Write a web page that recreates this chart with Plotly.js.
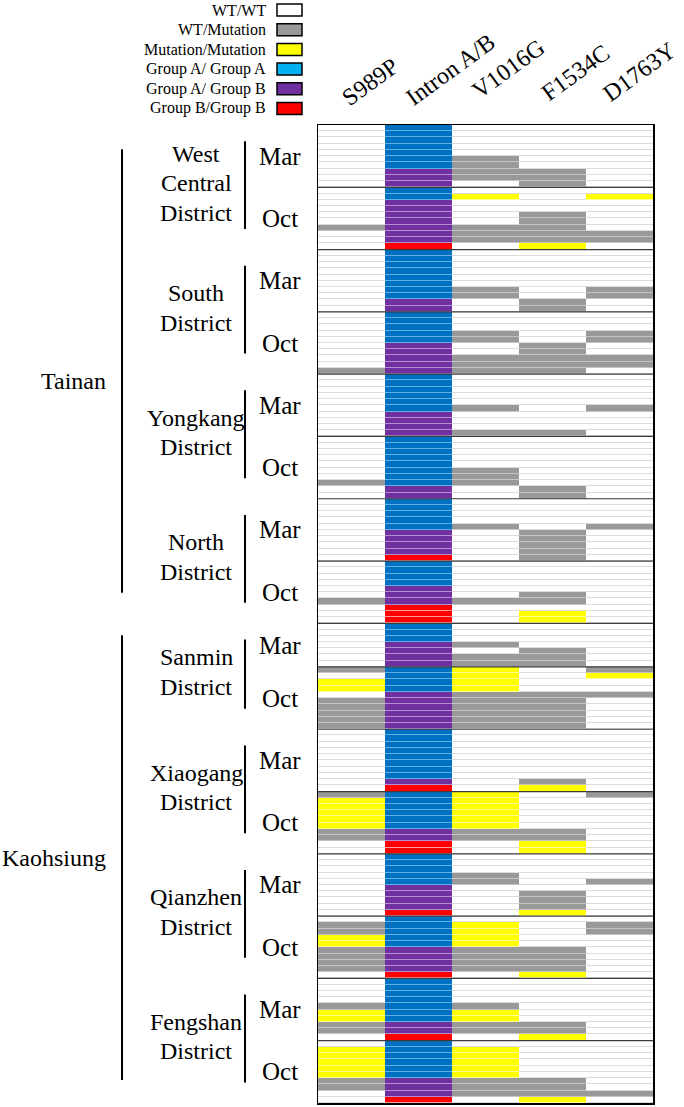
<!DOCTYPE html>
<html><head><meta charset="utf-8">
<script src="https://cdn.plot.ly/plotly-3.0.1.min.js"></script>
<style>html,body{margin:0;padding:0;background:#fff;}#chart{width:684px;height:1107px;}</style>
</head><body><div id="chart"></div>
<script>
// ---------------- DATA ----------------
const columns = ['S989P', 'Intron A/B', 'V1016G', 'F1534C', 'D1763Y'];
const cities = ['Tainan', 'Kaohsiung'];
const districts = [['West', 'Central', 'District'], ['South', 'District'], ['Yongkang', 'District'], ['North', 'District'],
                   ['Sanmin', 'District'], ['Xiaogang', 'District'], ['Qianzhen', 'District'], ['Fengshan', 'District']];
const districtCity = [0, 0, 0, 0, 1, 1, 1, 1];
const months = ['Mar', 'Oct'];
// genotype codes per individual (one string per district/month block, rows top to bottom)
// 0 = WT/WT, 1 = WT/Mutation, 2 = Mutation/Mutation
// Intron: A = Group A/Group A, H = Group A/Group B, B = Group B/Group B
const S989P = ['0000000000', '0000001000', '0000000000', '0000000001', '0000000000', '0000000100', '0000000000', '0000001000',
               '0000000', '1022011111', '0000000000', '1222221100', '0000000000', '0112211110', '0000122110', '0222221100'];
const intronAB = ['AAAAAAAHHH', 'AAHHHHHHHB', 'AAAAAAAAHH', 'AAAAAHHHHH', 'AAAAAAHHHH', 'AAAAAAAAHH', 'AAAAAHHHHB', 'AAAAHHHBBB',
                  'AAAHHHH', 'AAAAHHHHHH', 'AAAAAAAAHB', 'AAAAAAHHBB', 'AAAAAHHHHB', 'AAAAAHHHHB', 'AAAAAAAHHB', 'AAAAAAHHHB'];
const V1016G = ['0000011110', '0200001110', '0000001100', '0001100111', '0000010001', '0000011100', '0000100000', '0000001000',
                '0001011', '2222111111', '0000000000', '2222221100', '0001100000', '0222211110', '0000122110', '0222221110'];
const F1534C = ['0000000111', '0000111112', '0000000011', '0000011111', '0000000001', '0000000011', '0000011111', '0000011022',
                '0000111', '0000111111', '0000000012', '0000001122', '0000001112', '0000011112', '0000000112', '0000001112'];
const D1763Y = ['0000000000', '0200000110', '0000001100', '0001100110', '0000010000', '0000000000', '0000100000', '0000000000',
                '0000000', '1200100000', '0000000000', '1000000000', '0000100000', '0110000000', '0000000000', '0000000010'];
const legendLabels = ['WT/WT', 'WT/Mutation', 'Mutation/Mutation', 'Group A/ Group A', 'Group A/ Group B', 'Group B/Group B'];

// ---------------- STYLE ----------------
const codeMap = {'0': 0, '1': 1, '2': 2, 'A': 3, 'H': 4, 'B': 5};
const cellColors = ['#ffffff', '#999999', '#ffff00', '#0070c0', '#7030a0', '#ff0000'];
const lineColors = ['#dcdcdc', '#c4c4c4', '#ffff90', '#5fb0e4', '#b38fd2', '#ff9a9a'];
const legendColors = ['#ffffff', '#999999', '#ffff00', '#00b0f0', '#7030a0', '#ff0000'];
const W = 684, H = 1107, ML = 318, MR = 31, MT = 125, MB = 4;
const plotW = W - ML - MR, plotH = H - MT - MB;
const px2x = px => (px - ML) / plotW;
const px2y = py => 1 - (py - MT) / plotH;
const FONT = '"Liberation Serif", "Times New Roman", serif';
const headerPos = [[370, 82], [450, 70], [508, 69], [575, 73], [639, 72]];
const headerSize = 24, districtSize = 24, monthSize = 25, citySize = 24, legendSize = 16;
const districtLinePx = 29.5;
const cityBarPad = [[3.9, 4.9], [1.9, 3.7]];   // rows trimmed at top / bottom of each city bar
const cityLabelShift = [1.6, 0];               // rows

function stepScale(cols) {
  const s = [];
  const n = cols.length;
  cols.forEach((c, i) => { s.push([i / n, c]); s.push([(i + 1) / n, c]); });
  return s;
}

// ---------------- BUILD ----------------
const zRows = [];
const blockStart = [];
const blockLen = [];
for (let b = 0; b < intronAB.length; b++) {
  blockStart.push(zRows.length);
  blockLen.push(intronAB[b].length);
  for (let r = 0; r < intronAB[b].length; r++) {
    zRows.push([S989P[b][r], intronAB[b][r], V1016G[b][r], F1534C[b][r], D1763Y[b][r]].map(ch => codeMap[ch]));
  }
}
const nRows = zRows.length;
const rowPx = plotH / nRows;
const xs = columns.map((_, i) => i);
const ys = zRows.map((_, i) => i);

const baseTrace = {type: 'heatmap', z: zRows, x: xs, y: ys, zmin: -0.5, zmax: 5.5, colorscale: stepScale(lineColors),
                   showscale: false, hoverinfo: 'skip'};
const cellTrace = {type: 'heatmap', z: zRows, x: xs, y: ys, zmin: -0.5, zmax: 5.5, colorscale: stepScale(cellColors),
                   showscale: false, ygap: 1, hoverinfo: 'skip'};

const shapes = [];
const annotations = [];

// block separators
for (let b = 1; b < blockStart.length; b++) {
  shapes.push({type: 'line', xref: 'paper', yref: 'y', x0: 0, x1: 1, y0: blockStart[b] - 0.5, y1: blockStart[b] - 0.5,
               line: {color: '#3c3c3c', width: 1.2}});
}
// month labels
for (let b = 0; b < blockStart.length; b++) {
  annotations.push({xref: 'paper', yref: 'y', x: px2x(280), y: blockStart[b] - 0.5 + blockLen[b] / 2,
                    text: months[b % 2], showarrow: false, xanchor: 'center', yanchor: 'middle',
                    font: {family: FONT, size: monthSize, color: '#000'}});
}
// district labels and bars
for (let d = 0; d < districts.length; d++) {
  const s = blockStart[2 * d] - 0.5;
  const e = blockStart[2 * d + 1] - 0.5 + blockLen[2 * d + 1];
  const y0 = s + 2.6, y1 = e - 3.3;
  shapes.push({type: 'line', xref: 'paper', yref: 'y', x0: px2x(245), x1: px2x(245), y0: y0, y1: y1,
               line: {color: '#000', width: 2}});
  const lines = districts[d];
  const mid = (y0 + y1) / 2 - 0.3;
  lines.forEach((ln, k) => {
    const off = (k - (lines.length - 1) / 2) * districtLinePx / rowPx;
    annotations.push({xref: 'paper', yref: 'y', x: px2x(196), y: mid + off, text: ln, showarrow: false,
                      xanchor: 'center', yanchor: 'middle', font: {family: FONT, size: districtSize, color: '#000'}});
  });
}
// city labels and bars
for (let c = 0; c < cities.length; c++) {
  const ds = districtCity.map((v, i) => v === c ? i : -1).filter(i => i >= 0);
  const first = ds[0], last = ds[ds.length - 1];
  const s = blockStart[2 * first] - 0.5;
  const e = blockStart[2 * last + 1] - 0.5 + blockLen[2 * last + 1];
  const y0 = s + cityBarPad[c][0], y1 = e - cityBarPad[c][1];
  shapes.push({type: 'line', xref: 'paper', yref: 'y', x0: px2x(122), x1: px2x(122), y0: y0, y1: y1,
               line: {color: '#000', width: 2}});
  annotations.push({xref: 'paper', yref: 'y', x: px2x(108), y: (y0 + y1) / 2 + cityLabelShift[c], text: cities[c],
                    showarrow: false, xanchor: 'right', yanchor: 'middle',
                    font: {family: FONT, size: citySize, color: '#000'}});
}
// column headers
columns.forEach((c, i) => {
  annotations.push({xref: 'paper', yref: 'paper', x: px2x(headerPos[i][0]), y: px2y(headerPos[i][1]), text: c,
                    showarrow: false, textangle: -36, xanchor: 'center', yanchor: 'middle',
                    font: {family: FONT, size: headerSize, color: '#000'}});
});
// legend
legendLabels.forEach((lab, i) => {
  const cy = 10 + 19.7 * i;
  annotations.push({xref: 'paper', yref: 'paper', x: px2x(268), y: px2y(cy), text: lab, showarrow: false,
                    xanchor: 'right', yanchor: 'middle', font: {family: FONT, size: legendSize, color: '#000'}});
  shapes.push({type: 'rect', xref: 'paper', yref: 'paper', x0: px2x(277), x1: px2x(302), y0: px2y(cy - 6), y1: px2y(cy + 6),
               fillcolor: legendColors[i], line: {color: '#000', width: 1.5}});
});

const layout = {
  width: W, height: H,
  margin: {l: ML, r: MR, t: MT, b: MB, pad: 0},
  paper_bgcolor: '#fff', plot_bgcolor: '#fff',
  showlegend: false,
  xaxis: {range: [-0.5, 4.5], showticklabels: false, ticks: '', showgrid: false, zeroline: false,
          showline: true, mirror: true, linecolor: '#000', linewidth: 1.5, fixedrange: true},
  yaxis: {range: [nRows - 0.5, -0.5], showticklabels: false, ticks: '', showgrid: false, zeroline: false,
          showline: true, mirror: true, linecolor: '#000', linewidth: 1.5, fixedrange: true},
  shapes: shapes,
  annotations: annotations
};
Plotly.newPlot('chart', [baseTrace, cellTrace], layout, {displayModeBar: false, staticPlot: true});
</script>
</body></html>
